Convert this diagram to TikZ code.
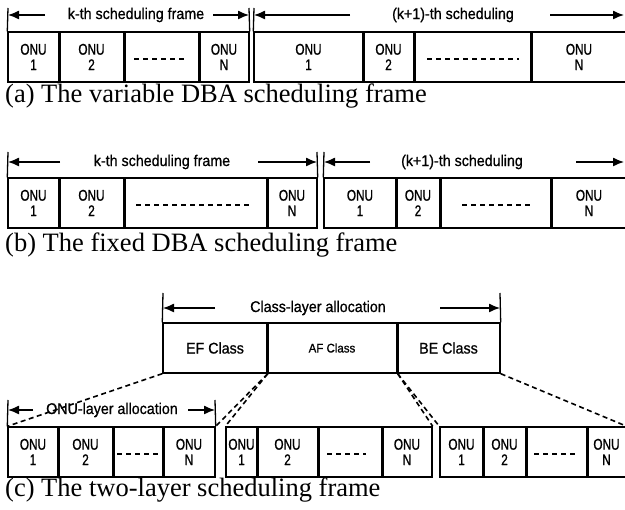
\documentclass[tikz,border=0pt]{standalone}
\usepackage{fontspec}
\setmainfont{Liberation Serif}
\newfontfamily\labfont[FakeStretch=0.92,FakeBold=0.8]{Liberation Sans}
\newfontfamily\onufont[FakeStretch=0.76,FakeBold=1]{Liberation Sans}
\usetikzlibrary{arrows.meta}
\tikzset{
 cell/.style={draw, line width=1.4pt, inner sep=0pt, align=center, font=\onufont\fontsize{15.5}{15.5}\selectfont},
 divider/.style={line width=2.4pt},
 vbar/.style={line width=1.3pt},
 arr/.style={line width=1.3pt, -{Latex[length=11pt,width=9pt]}},
 lab/.style={font=\labfont\fontsize{15.5}{16}\selectfont, inner sep=0pt},
 captext/.style={font=\fontsize{26.5}{30}\selectfont, anchor=base west, inner sep=0pt},
 hyph/.style={line width=1.5pt, dash pattern=on 5pt off 4pt},
 conn/.style={line width=1.6pt, dash pattern=on 5pt off 3.5pt},
}
\newcommand\cellbox[7][]{% opt font, name, x1, x2, ytop, ybot, text
 \pgfmathsetmacro\cwid{#4-#3}\pgfmathsetmacro\chgt{#6-#5}%
 \node[cell, minimum width=\cwid pt, minimum height=\chgt pt, #1] (#2) at ({(#3+#4)/2},{(#5+#6)/2}) {#7};}
\begin{document}
\begin{tikzpicture}[x=1pt,y=-1pt]
\clip (0,0) rectangle (625,510);
\fill[white] (0,0) rectangle (625,510);
% ---------- row (a)
\cellbox{a1}{8}{59}{32}{82}{ONU\\1}
\cellbox{a2}{59}{124}{32}{82}{ONU\\2}
\cellbox{a3}{124}{199}{32}{82}{}
\cellbox{a4}{199}{249}{32}{82}{ONU\\N}
\cellbox{b1}{254}{363}{32}{82}{ONU\\1}
\cellbox{b2}{363}{414}{32}{82}{ONU\\2}
\cellbox{b3}{414}{531}{32}{82}{}
\cellbox{b4}{531}{627}{32}{82}{ONU\\N}
\foreach \n in {a1,a2,a3,b1,b2,b3} \draw[divider] (\n.north east) -- (\n.south east);
\draw[hyph] ([xshift=11pt,yshift=-2pt]a3.west) -- ([xshift=-14pt,yshift=-2pt]a3.east);
\draw[hyph] ([xshift=14pt,yshift=-2pt]b3.west) -- ([xshift=-13pt,yshift=-2pt]b3.east);
\node[lab] (ta) at (136,15) {k-th scheduling frame};
\node[lab] (tb) at (453,15) {(k+1)-th scheduling};
\coordinate (aB1) at (8,8); \coordinate (aB2) at (249,8); \coordinate (aB3) at (254,8);
\draw[vbar] (a1.north west) -- (aB1);
\draw[vbar] (a4.north east) -- (aB2);
\draw[vbar] (b1.north west) -- (aB3);
\coordinate (aL1s) at (45,15); \coordinate (aL1e) at (8,15);
\coordinate (aR1s) at (213,15); \coordinate (aR1e) at (249,15);
\coordinate (aL2s) at (350,15); \coordinate (aL2e) at (254,15);
\coordinate (aR2s) at (550,15); \coordinate (aR2e) at (624,15);
\draw[arr] (aL1s) -- (aL1e); \draw[arr] (aR1s) -- (aR1e);
\draw[arr] (aL2s) -- (aL2e); \draw[arr] (aR2s) -- (aR2e);
\node[captext] (capa) at (5,103) {(a) The variable DBA scheduling frame};
% ---------- row (b)
\cellbox{c1}{8}{59}{178}{228}{ONU\\1}
\cellbox{c2}{59}{124}{178}{228}{ONU\\2}
\cellbox{c3}{124}{267}{178}{228}{}
\cellbox{c4}{267}{317}{178}{228}{ONU\\N}
\cellbox{d1}{324}{396}{178}{228}{ONU\\1}
\cellbox{d2}{396}{440}{178}{228}{ONU\\2}
\cellbox{d3}{440}{551}{178}{228}{}
\cellbox{d4}{551}{627}{178}{228}{ONU\\N}
\foreach \n in {c1,c2,c3,d1,d2,d3} \draw[divider] (\n.north east) -- (\n.south east);
\draw[hyph] ([xshift=13pt,yshift=-2pt]c3.west) -- ([xshift=-17pt,yshift=-2pt]c3.east);
\draw[hyph] ([xshift=23pt,yshift=-2pt]d3.west) -- ([xshift=-21pt,yshift=-2pt]d3.east);
\node[lab] (tc) at (162,162) {k-th scheduling frame};
\node[lab] (td) at (462,162) {(k+1)-th scheduling};
\coordinate (bB1) at (8,152); \coordinate (bB2) at (317,152); \coordinate (bB3) at (324,152);
\draw[vbar] (c1.north west) -- (bB1);
\draw[vbar] (c4.north east) -- (bB2);
\draw[vbar] (d1.north west) -- (bB3);
\coordinate (bL1s) at (60,162); \coordinate (bL1e) at (8,162);
\coordinate (bR1s) at (258,162); \coordinate (bR1e) at (317,162);
\coordinate (bL2s) at (370,162); \coordinate (bL2e) at (324,162);
\coordinate (bR2s) at (576,162); \coordinate (bR2e) at (624,162);
\draw[arr] (bL1s) -- (bL1e); \draw[arr] (bR1s) -- (bR1e);
\draw[arr] (bL2s) -- (bL2e); \draw[arr] (bR2s) -- (bR2e);
\node[captext] (capb) at (5,252) {(b) The fixed DBA scheduling frame};
% ---------- row (c) top
\cellbox[font=\labfont\fontsize{15.5}{16}\selectfont]{e1}{163}{267}{323}{373}{EF Class}
\cellbox[font=\labfont\fontsize{12.5}{14}\selectfont]{e2}{267}{397}{323}{373}{AF Class}
\cellbox[font=\labfont\fontsize{15.5}{16}\selectfont]{e3}{397}{500}{323}{373}{BE Class}
\foreach \n in {e1,e2} \draw[divider] (\n.north east) -- (\n.south east);
\node[lab] (te) at (318,308) {Class-layer allocation};
\coordinate (cB1) at (163,293); \coordinate (cB2) at (500,293);
\draw[vbar] (e1.north west) -- (cB1);
\draw[vbar] (e3.north east) -- (cB2);
\coordinate (cLs) at (215,308); \coordinate (cLe) at (163,308);
\coordinate (cRs) at (440,308); \coordinate (cRe) at (500,308);
\draw[arr] (cLs) -- (cLe); \draw[arr] (cRs) -- (cRe);
% ---------- row (c) bottom
\cellbox{g11}{8}{58}{427}{477}{ONU\\1}
\cellbox{g12}{58}{113}{427}{477}{ONU\\2}
\cellbox{g13}{113}{163}{427}{477}{}
\cellbox{g14}{163}{215}{427}{477}{ONU\\N}
\cellbox{g21}{226}{257}{427}{477}{ONU\\1}
\cellbox{g22}{257}{318}{427}{477}{ONU\\2}
\cellbox{g23}{318}{382}{427}{477}{}
\cellbox{g24}{382}{432}{427}{477}{ONU\\N}
\cellbox{g31}{440}{483}{427}{477}{ONU\\1}
\cellbox{g32}{483}{526}{427}{477}{ONU\\2}
\cellbox{g33}{526}{587}{427}{477}{}
\cellbox{g34}{587}{626}{427}{477}{ONU\\N}
\foreach \n in {g11,g12,g13,g21,g22,g23,g31,g32,g33} \draw[divider] (\n.north east) -- (\n.south east);
\draw[hyph] ([xshift=5pt,yshift=-2pt]g13.west) -- ([xshift=-5pt,yshift=-2pt]g13.east);
\draw[hyph] ([xshift=10pt,yshift=-2pt]g23.west) -- ([xshift=-17pt,yshift=-2pt]g23.east);
\draw[hyph] ([xshift=9pt,yshift=-2pt]g33.west) -- ([xshift=-12pt,yshift=-2pt]g33.east);
\node[lab] (tf) at (112,410) {ONU-layer allocation};
\coordinate (fB1) at (8,400); \coordinate (fB2) at (215,400);
\draw[vbar] (g11.north west) -- (fB1);
\draw[vbar] (g14.north east) -- (fB2);
\coordinate (fLs) at (33,410); \coordinate (fLe) at (8,410);
\coordinate (fRs) at (188,410); \coordinate (fRe) at (215,410);
\draw[arr] (fLs) -- (fLe); \draw[arr] (fRs) -- (fRe);
% dashed connectors
\draw[conn] (e1.south west) -- (g11.north west);
\draw[conn] (e1.south east) -- (g14.north east);
\draw[conn] (e1.south east) -- (g21.north west);
\draw[conn] (e2.south east) -- (g24.north east);
\draw[conn] (e2.south east) -- (g31.north west);
\draw[conn] (e3.south east) -- (g34.north east);
\node[captext] (capc) at (5,497) {(c) The two-layer scheduling frame};
\end{tikzpicture}
\end{document}
